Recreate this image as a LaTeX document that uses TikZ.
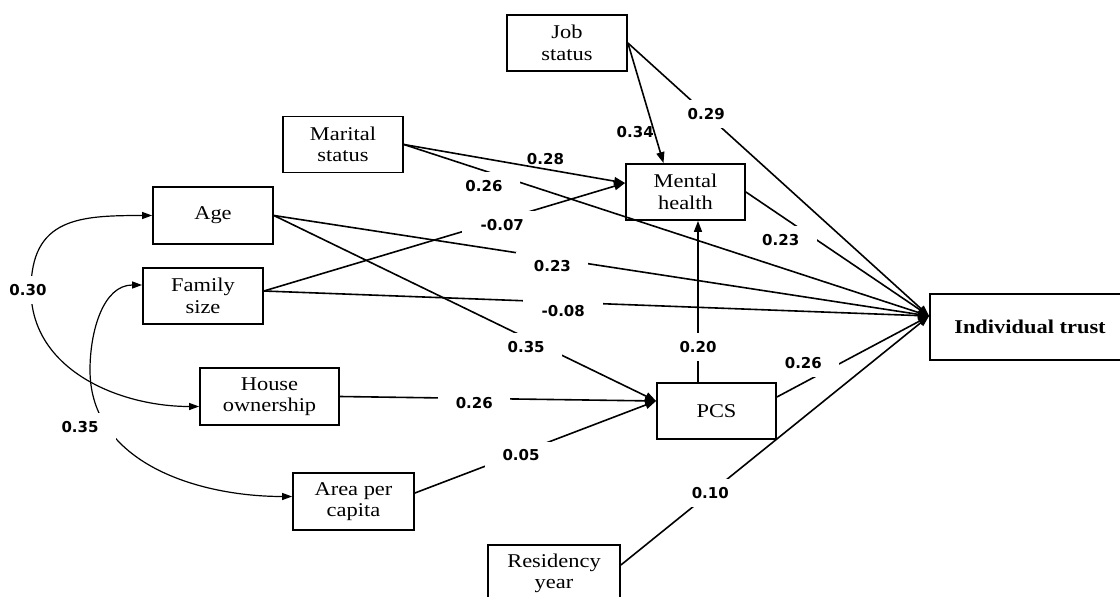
\documentclass[tikz,border=0pt]{standalone}
\usepackage{fontspec}
\setmainfont{Liberation Serif}[FakeStretch=1.15]
\newfontfamily\numfont{DejaVu Sans}
\usetikzlibrary{arrows.meta, calc}

\begin{document}
\begin{tikzpicture}[
    x=1pt, y=-1pt,
    var/.style={rectangle, draw, line width=1.8pt, minimum height=56pt,
                align=center, inner sep=0pt, font=\fontsize{19.5}{21.5}\selectfont},
    coef/.style={rectangle, fill=white, minimum width=72pt, minimum height=28pt,
                 inner sep=2pt, font=\numfont\bfseries\fontsize{15}{17}\selectfont},
    arrow/.style={-{Triangle[length=11pt, width=8pt]}, line width=1.6pt},
    corr/.style={{Triangle[length=10pt, width=7pt]}-{Triangle[length=10pt, width=7pt]},
                 line width=1.2pt}
  ]
    \useasboundingbox (0,0) rectangle (1120,597);

    % Variables
    \node[var, minimum width=120pt] (job) at (567,43) {Job\\status};
    \node[var, minimum width=120pt] (marital) at (343,144.5) {Marital\\status};
    \node[var, minimum width=119pt] (mental) at (685.5,192) {Mental\\health};
    \node[var, minimum width=120pt, minimum height=57pt] (age) at (213,215.5) {Age};
    \node[var, minimum width=120pt] (family) at (203,296) {Family\\size};
    \node[var, minimum width=139pt, minimum height=57pt] (house) at (269.5,396.5) {House\\ownership};
    \node[var, minimum width=121pt, minimum height=57pt] (area) at (353.5,501.5) {Area per\\capita};
    \node[var, minimum width=119pt] (pcs) at (716.5,411) {PCS};
    \node[var, minimum width=200pt, minimum height=66pt,
          font=\fontsize{19.5}{21.5}\selectfont\bfseries] (trust) at (1030,327) {Individual trust};
    \node[var, minimum width=132pt, minimum height=57pt] (res) at (554,573.5) {Residency\\year};

    % Entry and exit points
    \coordinate (tin) at ([yshift=11pt]trust.west);
    \coordinate (min) at ([yshift=9pt]mental.west);
    \coordinate (pin) at ([yshift=10pt]pcs.west);
    \coordinate (fout) at ([yshift=5pt]family.east);
    \coordinate (pout) at ([yshift=14pt]pcs.east);
    \coordinate (aout) at ([yshift=8.5pt]area.east);
    \coordinate (rout) at ([yshift=8.5pt]res.east);
    \coordinate (pup) at ([xshift=-18.5pt]pcs.north);
    \coordinate (c30) at (31,290);
    \coordinate (c35) at (90,370);

    % Paths
    \draw[arrow] (job.east) -- ([xshift=-22pt]mental.north)
        node[coef, fill=none, pos=0.74, xshift=-19pt] {0.34};
    \draw[arrow] (job.east) -- (tin) node[coef, pos=0.26] {0.29};
    \draw[arrow] (marital.east) -- (min) node[coef, fill=none, pos=0.64, yshift=10pt] {0.28};
    \draw[arrow] (marital.east) -- (tin) node[coef, pos=0.16, yshift=-14pt, xshift=-4pt] {0.26};
    \draw[arrow] (fout) -- (min) node[coef, pos=0.66, yshift=-5pt, minimum width=80pt] {-0.07};
    \draw[arrow] (fout) -- (tin) node[coef, pos=0.45, yshift=-9pt, minimum width=80pt] {-0.08};
    \draw[arrow] (age.east) -- (tin) node[coef, pos=0.425, yshift=-8pt] {0.23};
    \draw[arrow] (age.east) -- (pin) node[coef, pos=0.66, yshift=-9pt] {0.35};
    \draw[arrow] (mental.east) -- (tin) node[coef, pos=0.19, yshift=-24pt] {0.23};
    \draw[arrow] (pup) -- (pup |- mental.south) node[coef, pos=0.22] {0.20};
    \draw[arrow] (pout) -- (tin) node[coef, pos=0.2, yshift=18pt, xshift=-4pt] {0.26};
    \draw[arrow] (house.east) -- (pin) node[coef, pos=0.425, yshift=-5pt] {0.26};
    \draw[arrow] (aout) -- (pin) node[coef, pos=0.44, yshift=-3pt] {0.05};
    \draw[arrow] (rout) -- (tin) node[coef, pos=0.29] {0.10};

    % Correlations
    \draw[corr] (age.west) to[out=180, in=90, looseness=1.3] (c30)
        node[coef, xshift=-3pt] {0.30} to[out=-90, in=180] ([yshift=-10pt]house.west);
    \draw[corr] ([yshift=11pt]family.west) to[out=180, in=90] (c35)
        to[out=-90, in=180] node[coef, pos=0.2, xshift=-22pt, yshift=-8pt] {0.35}
        ([yshift=5pt]area.west);
\end{tikzpicture}
\end{document}
